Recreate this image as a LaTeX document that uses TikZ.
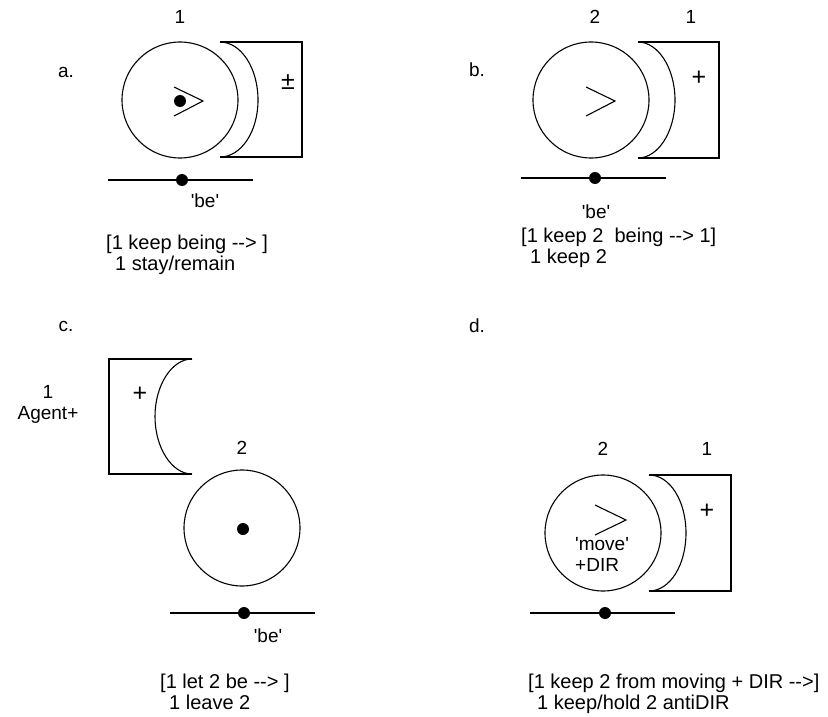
\documentclass[tikz,border=0pt]{standalone}
\usepackage{fontspec}
\setmainfont{Liberation Sans}[Ligatures=TeXOff]
\usetikzlibrary{positioning}
\tikzset{
    entity/.style={circle, draw, line width=1.1pt, minimum size=116pt, inner sep=0pt},
    spot/.style={circle, fill=black, inner sep=0pt, minimum size=12pt},
    lbl/.style={font=\fontsize{19}{21}\selectfont, inner sep=0pt},
    sign/.style={font=\fontsize{25}{25}\selectfont, inner sep=0pt},
    caption/.style={font=\fontsize{20}{21}\selectfont, inner sep=0pt, align=left, anchor=north west},
    force/.style={line width=1.1pt},
    ground/.style={line width=1.1pt}
}

\begin{document}
\begin{tikzpicture}[x=1pt, y=-1pt]
  \useasboundingbox (0,0) rectangle (828,717);
  % a.
  \node[lbl] (tagA) at (66,72) {a.};
  \node[entity] (entA) at (180,100) {};
  \node[spot] (dotA) at (180,101) {};
  \draw[force] (174,87) -- (203,101) -- (174,116);
  \node[lbl, above=18pt of entA] (numA) {1};
  \draw[force] (220,42) -- (302,42) -- (302,157) -- (220,157);
  \draw[force] (220,42) .. controls (241,42) and (258,68) .. (258,100) .. controls (258,132) and (241,157) .. (220,157);
  \node[sign] (signA) at (288,82) {±};
  \coordinate (gA1) at (108,180);
  \coordinate (gA2) at (253,180);
  \draw[ground] (gA1) -- (gA2);
  \node[spot] (bA) at (182,180) {};
  \node[lbl] (beA) at (205,201) {'be'};
  \node[caption] (capA) at (106,235) {[1 keep being -{}-> ]\\\hspace{0.45em}1 stay/remain};
  % b.
  \node[lbl] (tagB) at (477,70) {b.};
  \node[entity] (entB) at (591,100) {};
  \draw[force] (586,87) -- (615,101) -- (586,116);
  \node[lbl] (numB2) at (595,17) {2};
  \node[lbl] (numB1) at (691,17) {1};
  \draw[force] (638,42) -- (719,42) -- (719,158) -- (638,158);
  \draw[force] (638,42) .. controls (658,42) and (675,68) .. (675,100) .. controls (675,132) and (658,158) .. (638,158);
  \node[sign] (signB) at (699,78) {+};
  \coordinate (gB1) at (521,178);
  \coordinate (gB2) at (666,178);
  \draw[ground] (gB1) -- (gB2);
  \node[spot] (bB) at (595,178) {};
  \node[lbl] (beB) at (596,212) {'be'};
  \node[caption] (capB) at (521,228) {[1 keep 2\ \ being -{}-> 1]\\\hspace{0.45em}1 keep 2};
  % c.
  \node[lbl] (tagC) at (66,326) {c.};
  \node[lbl, align=center] (agC) at (48,404) {1\\Agent+};
  \draw[force] (192,359) -- (109,359) -- (109,474) -- (192,474);
  \draw[force] (192,359) .. controls (172,359) and (155,385) .. (155,416.5) .. controls (155,448) and (172,474) .. (192,474);
  \node[sign] (signC) at (140,394) {+};
  \node[entity] (entC) at (242,528) {};
  \node[spot] (dotC) at (243,529) {};
  \node[lbl, above=15pt of entC] (numC) {2};
  \coordinate (gC1) at (170,613);
  \coordinate (gC2) at (315,613);
  \draw[ground] (gC1) -- (gC2);
  \node[spot] (bC) at (244,613) {};
  \node[lbl] (beC) at (268,636) {'be'};
  \node[caption] (capC) at (160,674) {[1 let 2 be -{}-> ]\\\hspace{0.45em}1 leave 2};
  % d.
  \node[lbl] (tagD) at (477,326) {d.};
  \node[entity] (entD) at (603,533) {};
  \draw[force] (595,505) -- (626,520) -- (595,535);
  \node[lbl, align=left, anchor=north west] (mvD) at (575,537) {'move'\\+DIR};
  \node[lbl] (numD2) at (603,449) {2};
  \node[lbl] (numD1) at (707,449) {1};
  \draw[force] (649,475) -- (731,475) -- (731,591) -- (649,591);
  \draw[force] (649,475) .. controls (670,475) and (686,501) .. (686,533) .. controls (686,565) and (670,591) .. (649,591);
  \node[sign] (signD) at (707,511) {+};
  \coordinate (gD1) at (530,613);
  \coordinate (gD2) at (675,613);
  \draw[ground] (gD1) -- (gD2);
  \node[spot] (bD) at (605,613) {};
  \node[caption] (capD) at (528,674) {[1 keep 2 from moving + DIR -{}->]\\\hspace{0.45em}1 keep/hold 2 antiDIR};
\end{tikzpicture}
\end{document}
